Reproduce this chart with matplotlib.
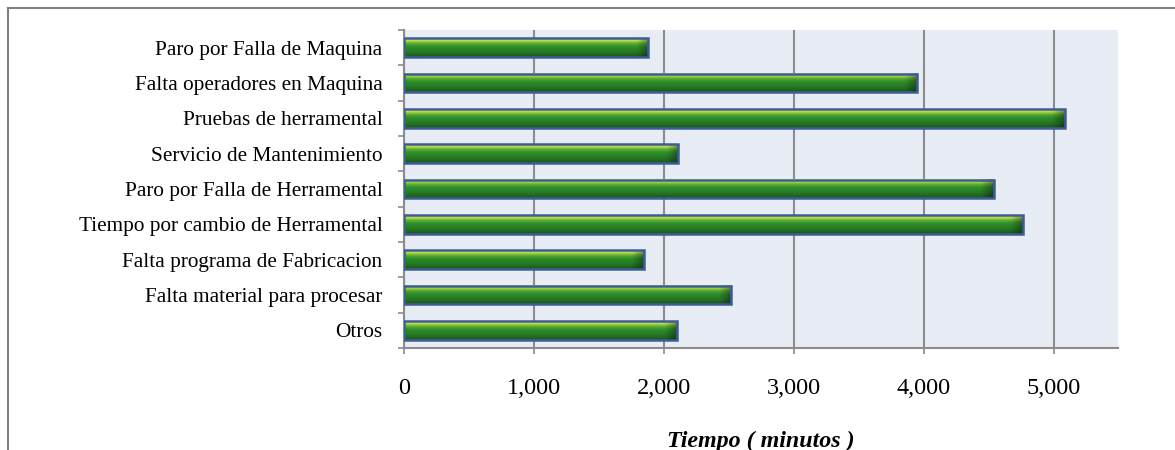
import numpy as np
import matplotlib.pyplot as plt
from matplotlib.lines import Line2D
from matplotlib.colors import LinearSegmentedColormap
from matplotlib.ticker import FuncFormatter, FixedLocator

plt.rcParams['font.family'] = ['Liberation Serif', 'DejaVu Serif']

# data, top to bottom as in the chart
categorias = ["Paro por Falla de Maquina", "Falta operadores en Maquina", "Pruebas de herramental",
              "Servicio de Mantenimiento", "Paro por Falla de Herramental",
              "Tiempo por cambio de Herramental", "Falta programa de Fabricacion",
              "Falta material para procesar", "Otros"]
minutos = [1880, 3950, 5085, 2110, 4540, 4765, 1845, 2520, 2100]
xticks = [0, 1000, 2000, 3000, 4000, 5000]

# bottom-up order for plotting
cats = categorias[::-1]
vals = minutos[::-1]
pos = np.arange(len(cats))
h = 0.52

fig = plt.figure(figsize=(11.75, 4.5), dpi=100)
ax = fig.add_axes([0.3438, 0.2267, 0.9519 - 0.3438, 0.9333 - 0.2267])
ax.set_facecolor("#e8ecf4")

# vertical gradient: light yellow-green on top, dark green at bottom
grad = LinearSegmentedColormap.from_list(
    "barra", [(0.0, "#e2f060"), (0.12, "#c4de48"), (0.28, "#58ac34"),
              (0.45, "#2f8e2a"), (0.75, "#257622"), (1.0, "#1b561b")])
ny, nx = 60, 200
col = grad(np.linspace(0, 1, ny))[:, :3]

for y, v in zip(pos, vals):
    img = np.repeat(col[:, None, :], nx, axis=1).copy()
    # darker shading at the right end of each bar
    xs = np.linspace(0, v, nx)
    sh = np.clip((xs - (v - 90)) / 90, 0, 1) * 0.35
    img = img * (1 - sh[None, :, None])
    ax.imshow(img, extent=(0, v, y - h / 2, y + h / 2), aspect="auto",
              origin="upper", zorder=2, interpolation="bilinear")
    ax.barh(y, v, height=h, facecolor="none", edgecolor="#3b5e99", linewidth=1.8, zorder=3)

ax.set_xlim(0, 5500)
ax.set_ylim(-0.5, len(cats) - 0.5)

ax.set_xticks(xticks)
ax.xaxis.set_major_formatter(FuncFormatter(lambda x, p: f"{int(x):,}"))
ax.set_yticks(pos)
ax.set_yticklabels(cats)
ax.yaxis.set_minor_locator(FixedLocator(np.arange(-0.5, len(cats), 1.0)))

ax.tick_params(axis="y", which="major", length=0, pad=15.5, labelsize=15.3)
ax.tick_params(axis="y", which="minor", length=4.5, width=1.2, color="#8c8c8c")
ax.tick_params(axis="x", length=4.5, width=1.2, color="#8c8c8c", pad=17, labelsize=17.5)

ax.grid(axis="x", color="#8c8c8c", linewidth=1.5)
ax.set_axisbelow(True)
for s in ["top", "right"]:
    ax.spines[s].set_visible(False)
for s in ["left", "bottom"]:
    ax.spines[s].set_color("#8c8c8c")
    ax.spines[s].set_linewidth(1.5)

ax.set_xlabel("Tiempo ( minutos )", fontsize=17.3, fontweight="bold", fontstyle="italic", labelpad=23)

# outer chart border (cropped at right and bottom)
fig.add_artist(Line2D([8 / 1175, 1], [1 - 8 / 450, 1 - 8 / 450], color="#808080", linewidth=1.5))
fig.add_artist(Line2D([8 / 1175, 8 / 1175], [0, 1 - 8 / 450], color="#808080", linewidth=1.5))

fig.savefig("out.png", dpi=100)
